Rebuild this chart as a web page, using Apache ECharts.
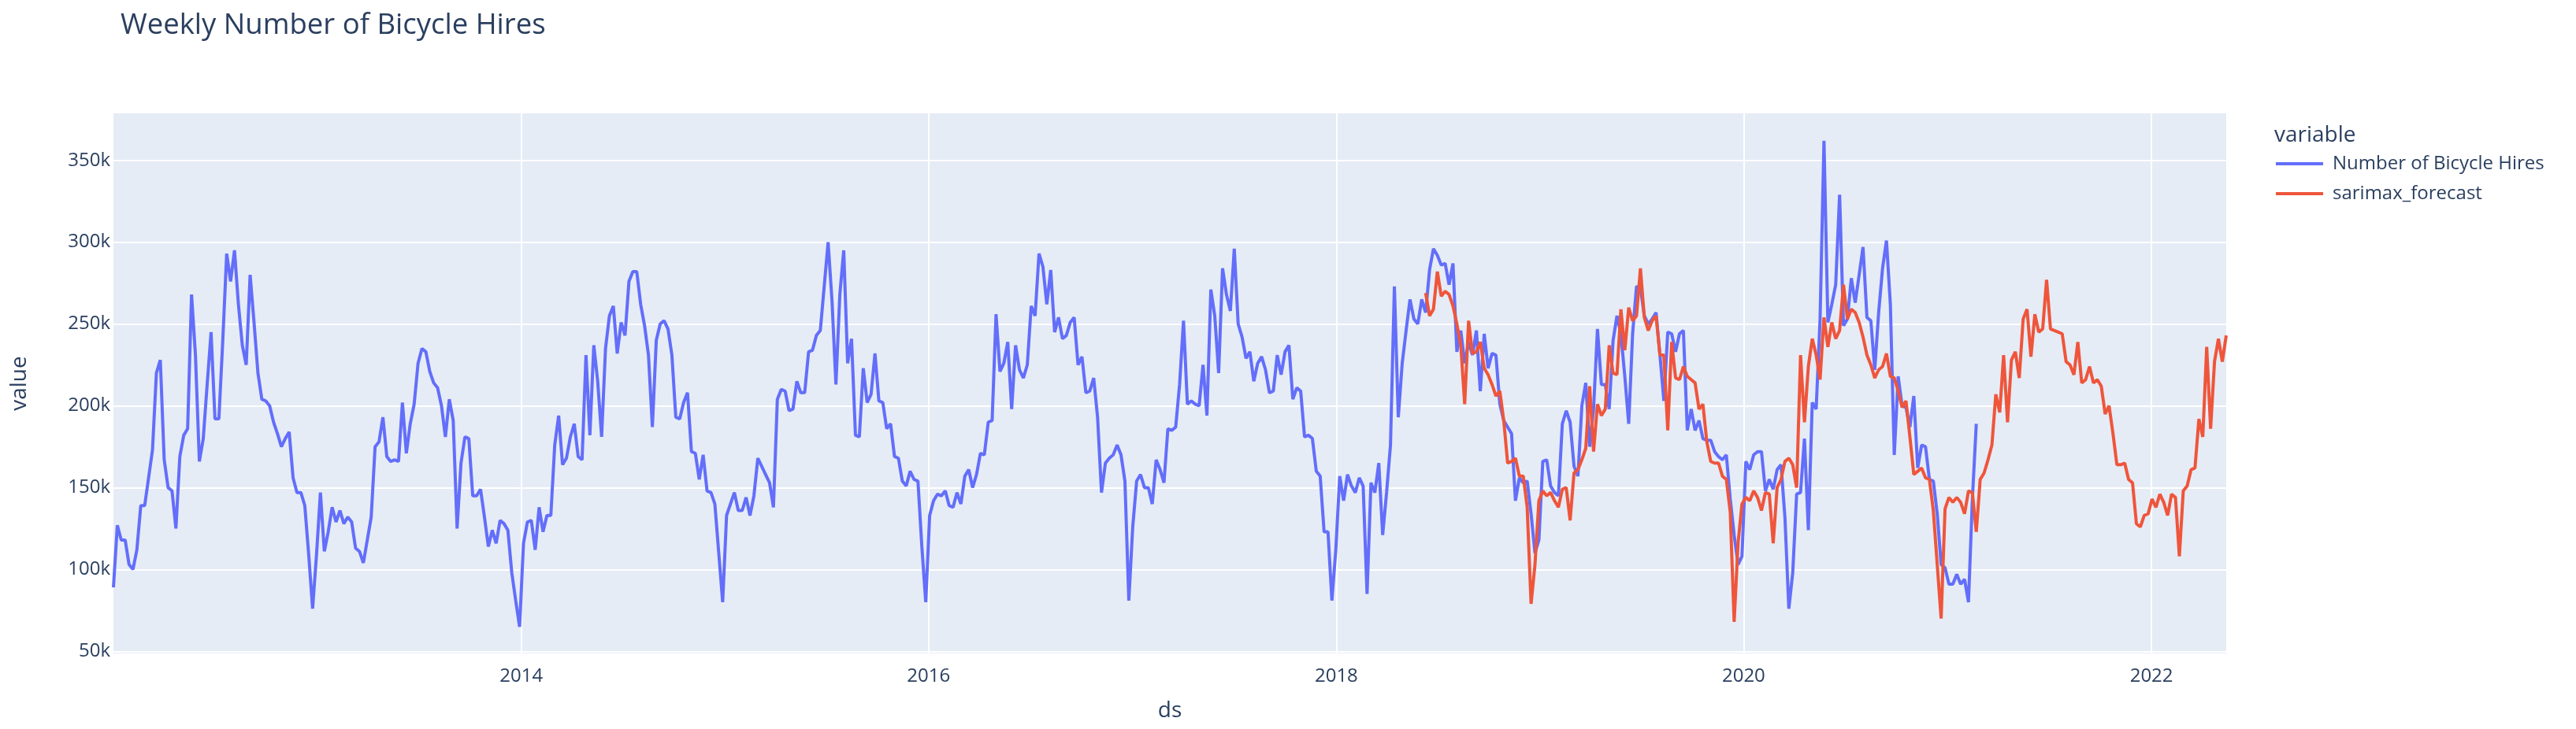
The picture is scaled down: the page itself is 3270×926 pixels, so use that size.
<!DOCTYPE html>
<html><head><meta charset="utf-8">
<script src="https://cdn.jsdelivr.net/npm/echarts@6/dist/echarts.min.js"></script>
<style>html,body{margin:0;padding:0;background:#fff}#c{width:3270px;height:926px}</style>
</head><body><div id="c"></div>
<script>
// ---- data (weekly values, thousands of hires) ----
const seriesNames = ['Number of Bicycle Hires', 'sarimax_forecast'];
const firstWeek = [2012, 0, 1];          // Sunday 2012-01-01
const forecastOffsetWeeks = 336;         // forecast starts 2018-06-10
const yearTicks = [2014, 2016, 2018, 2020, 2022];

const hires2012 = [89,127,118,118,103,100,112,139,139,156,173,220,228,167,150,148,125,169,182,186,268,231,166,180,213,245,192,192,240,293,276,295,262,237,225,280,251,220,204,203,200,190,183,175,180,184,156,147,147,139,109,76,109,147,111,123];
const hires2013 = [138,129,136,128,132,129,113,111,104,118,132,175,178,193,169,166,167,166,202,171,189,201,226,235,233,221,214,211,200,181,204,191,125,165,181,180,145,145,149,132,114,124,116,130,128,124,98,81,65,116,129,130,112,138,123];
const hires2014 = [133,133,176,194,164,168,181,189,169,167,231,182,237,215,181,235,255,261,232,251,243,276,282,282,262,249,231,187,240,250,252,247,231,193,192,202,208,172,171,155,170,148,147,140,110,80,133,140,147,136,136,144,133,145];
const hires2015 = [168,163,158,153,138,204,210,209,197,198,215,208,208,233,234,243,246,273,300,264,213,268,295,226,241,182,181,223,202,207,232,203,202,186,189,169,168,154,151,160,155,154,114,80,133,142,146,145,148,139,138,147,140,157];
const hires2016 = [161,150,158,171,170,190,191,256,221,226,239,198,237,222,217,225,261,255,293,285,262,283,245,254,241,243,251,254,225,230,208,209,217,193,147,165,168,170,176,170,154,81,126,154,158,150,150,140,167,161,153,186,185,187];
const hires2017 = [213,252,201,203,201,200,225,194,271,255,220,284,268,258,296,250,242,229,233,215,226,230,222,208,209,231,219,233,237,204,211,209,181,182,180,160,157,123,123,81,112,157,142,158,151,147,156,151,85,153,147,165,121,147];
const hires2018 = [176,273,193,226,246,265,253,250,265,257,283,296,292,286,287,274,287,233,246,226,239,231,246,209,244,223,232,231,201,191,187,183,142,156,153,154,134,110,118,166,167,151,147,145,189,197,190,163,157,200,214,175,198,247];
const hires2019 = [213,213,198,240,255,244,218,189,244,273,272,255,250,253,257,231,203,245,244,233,244,246,185,198,185,191,180,179,179,172,169,167,170,143,121,103,108,166,161,170,172,172,148,155,149,161,164,132,76,98,146,147,180,124,202];
const hires2020 = [198,253,362,251,262,274,329,249,253,278,263,280,297,254,252,222,257,284,301,262,170,218,200,199,187,206,162,176,175,155,154,134,103,101,91,91,97,91,94,80,143,189];

const forecast2018 = [269,255,259,282,267,270,268,261,250,237,201,252,232,233,239,223,219,213,206,209,191,165,166,168,157,157,138,79,103,142,148,145,147,142,138,149,150,130,159,161,167,174,212,172,201];
const forecast2019 = [194,198,237,220,219,259,234,260,252,255,284,254,246,252,255,231,231,185,239,217,216,224,218,216,214,198,201,178,166,165,165,157,155,135,68,116,140,144,142,148,144,136,147,146,116,150,155,166,168,164,150,231,190,224,241];
const forecast2020 = [231,216,254,236,251,241,246,274,253,259,257,251,242,231,225,217,222,224,232,218,217,209,199,203,181,158,160,162,156,155,136,103,70,137,144,141,144,141,134,148,147,123,155,159,167,176,207,196,231,190,228,233,217,253];
const forecast2021 = [259,230,256,245,247,277,247,246,245,244,227,225,219,239,214,216,224,214,216,212,195,200,183,164,164,165,155,153,128,126,133,134,143,138,146,141,133,146,144,108,148,151,161,162,192,181,236,186,227,241,227,243];

// ---- build ----
const hires = [].concat(hires2012, hires2013, hires2014, hires2015, hires2016, hires2017, hires2018, hires2019, hires2020);
const forecast = [].concat(forecast2018, forecast2019, forecast2020, forecast2021);
const weekDate = i => new Date(firstWeek[0], firstWeek[1], firstWeek[2] + 7 * i).getTime();
const hiresData = hires.map((v, i) => [weekDate(i), v]);
const forecastData = forecast.map((v, j) => [weekDate(forecastOffsetWeeks + j), v]);
const xMin = weekDate(0);
const xMax = weekDate(forecastOffsetWeeks + forecast.length - 1);
const yearTs = yearTicks.map(y => new Date(y, 0, 1).getTime());

const FONT = '"Open Sans", verdana, arial, sans-serif';
const INK = '#2a3f5f';

const chart = echarts.init(document.getElementById('c'), null, {renderer: 'canvas'});
chart.setOption({
  animation: false,
  backgroundColor: '#ffffff',
  textStyle: {fontFamily: FONT, color: INK},
  title: [
    {text: 'Weekly Number of Bicycle Hires', left: 148, top: 9,
     textStyle: {fontFamily: FONT, fontSize: 36.5, fontWeight: 'normal', color: INK}},
    {text: 'variable', left: 2882, top: 153,
     textStyle: {fontFamily: FONT, fontSize: 28, fontWeight: 'normal', color: INK}}
  ],
  legend: {
    orient: 'vertical', left: 2889, top: 196, padding: 0,
    icon: 'rect', itemWidth: 60, itemHeight: 4, itemGap: 14,
    data: seriesNames,
    textStyle: {fontFamily: FONT, fontSize: 24, color: INK, padding: [0, 0, 0, 7]}
  },
  grid: {left: 144, right: 444, top: 143, bottom: 95, show: true,
         backgroundColor: '#E5ECF6', borderWidth: 0, containLabel: false},
  xAxis: {
    type: 'value', min: xMin, max: xMax, scale: true,
    name: 'ds', nameLocation: 'middle', nameGap: 58,
    nameTextStyle: {fontFamily: FONT, fontSize: 28, color: INK},
    axisLine: {show: false},
    axisTick: {show: false, customValues: yearTs},
    axisLabel: {customValues: yearTs, margin: 16, fontSize: 24, color: INK, fontFamily: FONT,
                formatter: v => String(new Date(v).getFullYear())},
    splitLine: {show: true, lineStyle: {color: '#ffffff', width: 2}}
  },
  yAxis: {
    type: 'value', min: 48.2, max: 379.2, splitNumber: 6,
    name: 'value', nameLocation: 'middle', nameGap: 105,
    nameTextStyle: {fontFamily: FONT, fontSize: 28, color: INK},
    axisLine: {show: false}, axisTick: {show: false},
    axisLabel: {margin: 4, fontSize: 24, color: INK, fontFamily: FONT,
                showMinLabel: false, showMaxLabel: false,
                formatter: v => v + 'k'},
    splitLine: {show: true, lineStyle: {color: '#ffffff', width: 2}}
  },
  series: [
    {name: seriesNames[0], type: 'line', data: hiresData, symbol: 'none',
     lineStyle: {color: '#636efa', width: 4}, itemStyle: {color: '#636efa'}},
    {name: seriesNames[1], type: 'line', data: forecastData, symbol: 'none',
     lineStyle: {color: '#EF553B', width: 4}, itemStyle: {color: '#EF553B'}}
  ]
});
</script>
</body></html>
